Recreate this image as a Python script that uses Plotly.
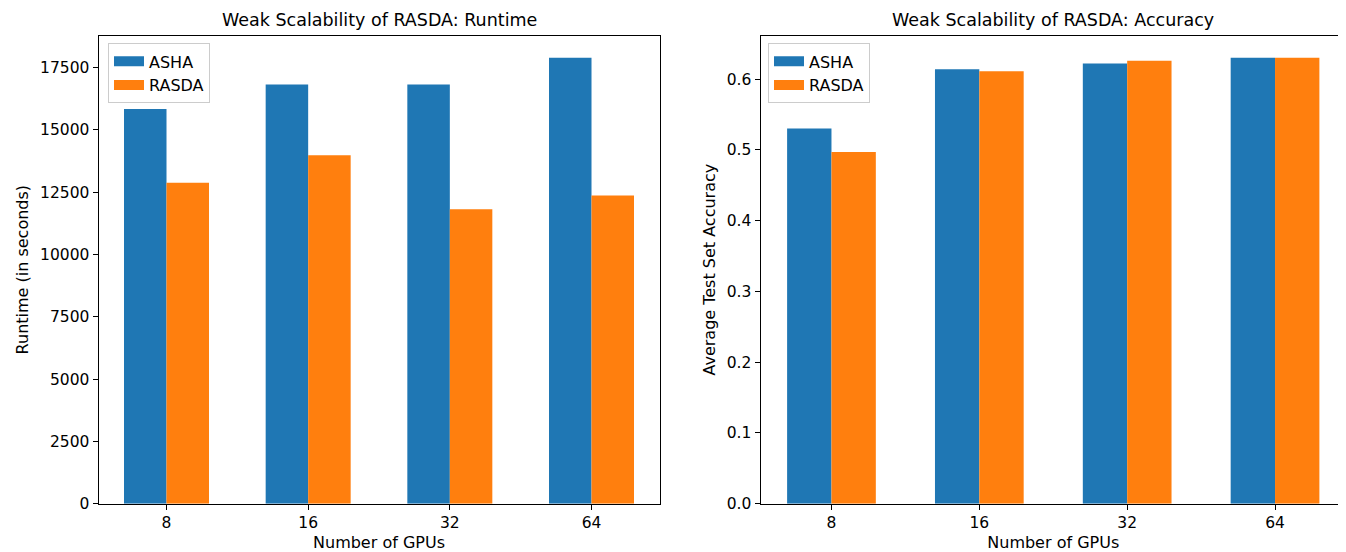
import plotly.graph_objects as go

gpus = ["8", "16", "32", "64"]
runtime_asha = [15840, 16830, 16830, 17895]
runtime_rasda = [12880, 13990, 11815, 12370]
acc_asha = [0.530, 0.614, 0.622, 0.630]
acc_rasda = [0.497, 0.611, 0.626, 0.630]
runtime_ticks = [0, 2500, 5000, 7500, 10000, 12500, 15000, 17500]
acc_ticks = [0.0, 0.1, 0.2, 0.3, 0.4, 0.5, 0.6]
series_names = ["ASHA", "RASDA"]

BLUE = "#1f77b4"
ORANGE = "#ff7f0e"
FONT = "DejaVu Sans"
W, H = 1346, 552
TICK = 15.5
LAB = 16
TITLE = 17.5

fig = go.Figure()
panels = [("x", "y", "legend", runtime_asha, runtime_rasda),
          ("x2", "y2", "legend2", acc_asha, acc_rasda)]
for xa, ya, lg, a_vals, r_vals in panels:
    for name, vals, col in zip(series_names, [a_vals, r_vals], [BLUE, ORANGE]):
        fig.add_trace(go.Bar(x=gpus, y=vals, name=name, marker=dict(color=col, line=dict(width=0)),
                             xaxis=xa, yaxis=ya, showlegend=False, hoverinfo="x+y"))
    # legend handles (wide patches like matplotlib)
    for name, col in zip(series_names, [BLUE, ORANGE]):
        fig.add_trace(go.Scatter(x=[None], y=[None], mode="lines", name=name,
                                 line=dict(color=col, width=11), xaxis=xa, yaxis=ya,
                                 legend=lg, showlegend=True))

L1, R1 = 90.5 / W, 651.5 / W
L2, R2 = 752.5 / W, 1338 / W
B, T = (H - 504) / H, (H - 28) / H

axis_common = dict(showline=True, mirror=True, linecolor="black", linewidth=1,
                   ticks="outside", ticklen=5, tickwidth=1, tickcolor="black",
                   showgrid=False, zeroline=False,
                   tickfont=dict(family=FONT, size=TICK, color="black"))

legend_common = dict(xanchor="left", yanchor="top",
                     bgcolor="rgba(255,255,255,0.8)", bordercolor="#cccccc", borderwidth=1,
                     font=dict(family=FONT, size=LAB), tracegroupgap=0, itemwidth=30)

fig.update_layout(
    width=W, height=H,
    margin=dict(l=0, r=0, t=0, b=0),
    paper_bgcolor="white", plot_bgcolor="white",
    barmode="group", bargap=0.4, bargroupgap=0,
    font=dict(family=FONT, size=LAB, color="black"),
    xaxis=dict(domain=[L1, R1], anchor="y", type="category", range=[-0.48, 3.48],
               title=dict(text="Number of GPUs", font=dict(family=FONT, size=LAB), standoff=5),
               **axis_common),
    yaxis=dict(domain=[B, T], anchor="x", range=[0, 1.05 * max(runtime_asha + runtime_rasda)],
               tickvals=runtime_ticks, tickformat="d",
               title=dict(text="Runtime (in seconds)", font=dict(family=FONT, size=LAB), standoff=7),
               **axis_common),
    xaxis2=dict(domain=[L2, R2], anchor="y2", type="category", range=[-0.48, 3.48],
                title=dict(text="Number of GPUs", font=dict(family=FONT, size=LAB), standoff=5),
                **axis_common),
    yaxis2=dict(domain=[B, T], anchor="x2", range=[0, 1.05 * max(acc_asha + acc_rasda)],
                tickvals=acc_ticks, tickformat=".1f",
                title=dict(text="Average Test Set Accuracy", font=dict(family=FONT, size=LAB), standoff=7),
                **axis_common),
    legend=dict(x=100 / W, y=(H - 36) / H, **legend_common),
    legend2=dict(x=760 / W, y=(H - 36) / H, **legend_common),
    annotations=[
        dict(text="Weak Scalability of RASDA: Runtime", x=(L1 + R1) / 2, y=T, xref="paper", yref="paper",
             xanchor="center", yanchor="bottom", yshift=4, showarrow=False,
             font=dict(family=FONT, size=TITLE, color="black")),
        dict(text="Weak Scalability of RASDA: Accuracy", x=(L2 + R2) / 2, y=T, xref="paper", yref="paper",
             xanchor="center", yanchor="bottom", yshift=4, showarrow=False,
             font=dict(family=FONT, size=TITLE, color="black")),
    ],
)

fig.write_html("out.html")
